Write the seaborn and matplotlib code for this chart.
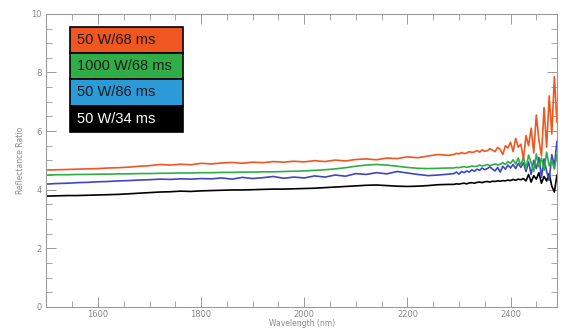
import numpy as np
import pandas as pd
import matplotlib
matplotlib.use("Agg")
import matplotlib.pyplot as plt
from matplotlib.patches import Rectangle
from matplotlib.ticker import MultipleLocator
import seaborn as sns

# wavelength grid: coarse in the smooth part, fine where the noise starts
wl_coarse = list(range(1500, 2290, 20))
wl_fine = list(range(2290, 2495, 5))
wavelength = wl_coarse + wl_fine

labels = ["50 W/68 ms", "1000 W/68 ms", "50 W/86 ms", "50 W/34 ms"]

r_50_68 = [
    4.67, 4.68, 4.69, 4.70, 4.71, 4.72, 4.74, 4.75, 4.77, 4.80,
    4.82, 4.86, 4.84, 4.87, 4.85, 4.90, 4.88, 4.91, 4.93, 4.90,
    4.94, 4.92, 4.96, 4.94, 4.97, 4.95, 4.99, 4.96, 5.01, 4.98,
    5.03, 5.05, 5.02, 5.08, 5.06, 5.12, 5.09, 5.15, 5.20, 5.17,
    5.20, 5.24, 5.22, 5.27, 5.23, 5.25, 5.30, 5.27, 5.29, 5.34,
    5.28, 5.36, 5.31, 5.33, 5.40, 5.35, 5.30, 5.44, 5.38, 5.20,
    5.50, 5.42, 5.62, 5.30, 5.75, 5.45, 5.55, 5.05, 5.85, 5.50,
    6.10, 5.25, 6.55, 5.70, 5.15, 6.80, 5.45, 7.20, 5.90, 7.85,
    6.30,
]
r_1000_68 = [
    4.50, 4.51, 4.51, 4.52, 4.52, 4.53, 4.53, 4.54, 4.54, 4.55,
    4.55, 4.56, 4.56, 4.57, 4.57, 4.58, 4.58, 4.59, 4.59, 4.60,
    4.60, 4.61, 4.61, 4.62, 4.63, 4.64, 4.66, 4.68, 4.71, 4.75,
    4.80, 4.84, 4.86, 4.84, 4.80, 4.76, 4.73, 4.72, 4.73, 4.74,
    4.74, 4.76, 4.75, 4.77, 4.79, 4.76, 4.78, 4.81, 4.79, 4.80,
    4.84, 4.81, 4.83, 4.86, 4.82, 4.85, 4.88, 4.84, 4.87, 4.92,
    4.86, 4.96, 4.90, 5.02, 4.88, 5.08, 4.82, 5.12, 4.72, 5.18,
    4.92, 4.62, 5.22, 4.78, 5.08, 4.66, 5.28, 4.82, 5.00, 4.70,
    5.20,
]
r_50_86 = [
    4.19, 4.21, 4.22, 4.24, 4.25, 4.27, 4.28, 4.30, 4.31, 4.33,
    4.34, 4.36, 4.35, 4.37, 4.36, 4.38, 4.37, 4.40, 4.36, 4.42,
    4.38, 4.41, 4.45, 4.39, 4.43, 4.40, 4.47, 4.43, 4.50, 4.46,
    4.55, 4.52, 4.58, 4.54, 4.62, 4.57, 4.52, 4.48, 4.50, 4.53,
    4.55, 4.60, 4.53, 4.62, 4.58, 4.64, 4.60, 4.68, 4.63, 4.70,
    4.66, 4.74, 4.68, 4.72, 4.78, 4.70, 4.64, 4.76, 4.60, 4.80,
    4.70, 4.84, 4.74, 4.86, 4.72, 4.90, 4.76, 4.92, 4.62, 4.95,
    4.52, 5.00, 4.72, 5.10, 4.42, 5.05, 4.62, 4.32, 5.20, 4.80,
    5.65,
]
r_50_34 = [
    3.78, 3.79, 3.80, 3.80, 3.81, 3.82, 3.83, 3.84, 3.86, 3.88,
    3.90, 3.92, 3.93, 3.95, 3.94, 3.96, 3.97, 3.98, 3.99, 3.99,
    4.00, 4.01, 4.02, 4.02, 4.03, 4.04, 4.05, 4.07, 4.09, 4.11,
    4.13, 4.15, 4.16, 4.14, 4.12, 4.11, 4.12, 4.14, 4.17, 4.18,
    4.18, 4.20, 4.19, 4.21, 4.22, 4.20, 4.23, 4.24, 4.22, 4.25,
    4.26, 4.24, 4.27, 4.28, 4.26, 4.29, 4.28, 4.30, 4.29, 4.31,
    4.30, 4.33, 4.31, 4.35, 4.32, 4.36, 4.34, 4.38, 4.30, 4.52,
    4.26, 4.48, 4.36, 4.58, 4.22, 4.45, 4.30, 4.55, 4.12, 3.92,
    4.50,
]

line_colors = ["#f0561f", "#2fae47", "#3d47c4", "#000000"]
box_colors = ["#f0561f", "#2fae47", "#2b9ad8", "#000000"]
text_colors = ["#1a1a1a", "#1a1a1a", "#1a1a1a", "#ffffff"]

series = [r_50_68, r_1000_68, r_50_86, r_50_34]
df = pd.concat(
    [pd.DataFrame({"wavelength": wavelength, "ratio": s, "run": lab})
     for s, lab in zip(series, labels)],
    ignore_index=True,
)

sns.set_style("ticks")
fig = plt.figure(figsize=(5.66, 3.3), dpi=100)
ax = fig.add_axes([0.082, 0.07, 0.902, 0.888])

# black drawn first, orange on top
sns.lineplot(data=df, x="wavelength", y="ratio", hue="run",
             hue_order=labels[::-1], palette=line_colors[::-1],
             linewidth=1.2, legend=False, ax=ax)

ax.set_xlim(1500, 2490)
ax.set_ylim(0, 10)
ax.xaxis.set_major_locator(MultipleLocator(200))
ax.xaxis.set_minor_locator(MultipleLocator(50))
ax.yaxis.set_major_locator(MultipleLocator(2))
ax.yaxis.set_minor_locator(MultipleLocator(0.5))

grey = "#9a9a9a"
for sp in ax.spines.values():
    sp.set_color(grey)
    sp.set_linewidth(0.8)
ax.tick_params(which="both", direction="in", top=True, right=True,
               colors=grey, labelcolor="#8a8a8a", labelsize=6)
ax.tick_params(which="major", length=7, width=0.7)
ax.tick_params(which="minor", length=4, width=0.6)
ax.tick_params(axis="x", pad=2)
ax.set_xlabel("Wavelength (nm)", fontsize=5.5, color="#8a8a8a", labelpad=0)
ax.set_ylabel("Reflectance Ratio", fontsize=5.5, color="#8a8a8a", labelpad=4)

# boxed legend in the top-left corner
x0, x1 = 0.047, 0.267
top, row_h = 0.956, 0.0896
for i, lab in enumerate(labels):
    y = top - (i + 1) * row_h
    ax.add_patch(Rectangle((x0, y), x1 - x0, row_h, transform=ax.transAxes,
                           facecolor=box_colors[i], edgecolor="black",
                           linewidth=1.2, zorder=5))
    ax.text(x0 + 0.013, y + row_h / 2, lab, transform=ax.transAxes,
            fontsize=10.5, color=text_colors[i], va="center", ha="left",
            family=["Liberation Sans", "DejaVu Sans"], zorder=6)

fig.savefig("out.png", dpi=100)
